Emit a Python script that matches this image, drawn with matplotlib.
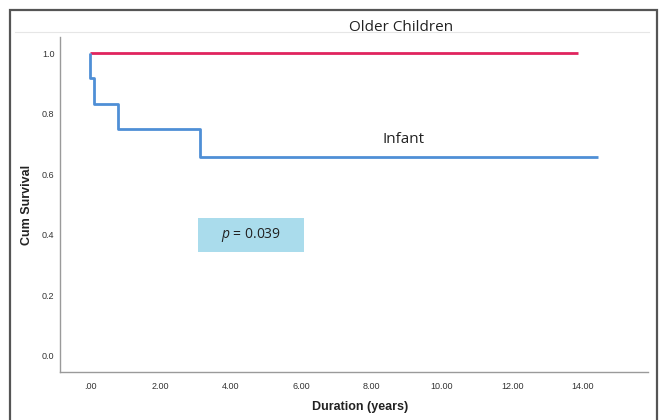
import matplotlib.pyplot as plt
from matplotlib.patches import Rectangle
from matplotlib.lines import Line2D

# Kaplan-Meier estimates (years, cumulative survival)
infant_time = [0.0, 0.01, 0.12, 0.80, 3.13, 14.43]
infant_surv = [1.0, 0.917, 0.833, 0.75, 0.656, 0.656]
older_time = [0.0, 13.86]
older_surv = [1.0, 1.0]

xticks = [0, 2, 4, 6, 8, 10, 12, 14]
xtick_labels = ['.00', '2.00', '4.00', '6.00', '8.00', '10.00', '12.00', '14.00']
yticks = [0.0, 0.2, 0.4, 0.6, 0.8, 1.0]
p_text = '$p$ = 0.039'

plt.rcParams['mathtext.fontset'] = 'custom'
plt.rcParams['mathtext.it'] = 'Open Sans:italic'
plt.rcParams['mathtext.rm'] = 'Open Sans'

W, H = 660, 420
fig = plt.figure(figsize=(6.6, 4.2), dpi=100)
fig.patch.set_facecolor('white')

# outer frame and the faint separator line at the top
fig.add_artist(Rectangle((10 / W, -0.01), 647 / W, (H - 10) / H + 0.01,
                         transform=fig.transFigure, fill=False,
                         edgecolor='#555555', lw=1.6))
fig.add_artist(Line2D([15 / W, 649 / W], [1 - 32 / H, 1 - 32 / H],
                      transform=fig.transFigure, color='#e6e6e6', lw=0.8))

ax = fig.add_axes([60 / W, (H - 372) / H, 588 / W, 335 / H])
ax.set_xlim(-0.85, 15.85)
ax.set_ylim(-0.053, 1.053)

ax.step(older_time, older_surv, where='post', color='#e0245e', lw=2.0,
        solid_capstyle='butt')
ax.step(infant_time, infant_surv, where='post', color='#4f8fd6', lw=2.0,
        solid_capstyle='butt')

for side in ['top', 'right']:
    ax.spines[side].set_visible(False)
for side in ['left', 'bottom']:
    ax.spines[side].set_color('#9a9a9a')
    ax.spines[side].set_linewidth(1.0)

ax.set_xticks(xticks)
ax.set_xticklabels(xtick_labels)
ax.set_yticks(yticks)
ax.set_yticklabels(['%.1f' % v for v in yticks])
ax.tick_params(length=0, labelsize=6.5, labelcolor='#333333',
               pad=7)
ax.tick_params(axis='y', pad=4)
for lab in ax.get_xticklabels() + ax.get_yticklabels():
    lab.set_family('Liberation Sans')

# p-value box
ax.add_patch(Rectangle((3.07, 0.343), 3.01, 0.112, facecolor='#aadcec',
                       edgecolor='none', zorder=3))
ax.text(4.575, 0.399, p_text, ha='center', va='center', fontsize=10,
        family='Open Sans', color='#222222', zorder=4)

ax.text(8.9, 0.713, 'Infant', ha='center', va='center', fontsize=11,
        family='Open Sans', color='#222222')
ax.text(8.83, 1.083, 'Older Children', ha='center', va='center', fontsize=11,
        family='Open Sans', color='#222222', clip_on=False)

fig.text(27 / W, 1 - 205 / H, 'Cum Survival', rotation=90, ha='center',
         va='center', fontsize=9, fontweight='bold', family='Liberation Sans',
         color='#222222')
fig.text(360 / W, 1 - 407 / H, 'Duration (years)', ha='center', va='center',
         fontsize=9, fontweight='bold', family='Liberation Sans',
         color='#222222')

fig.savefig('out.png', dpi=100)
